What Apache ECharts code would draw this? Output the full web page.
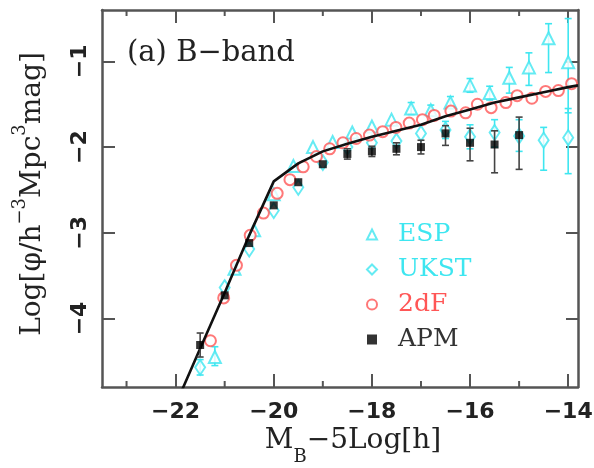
<!DOCTYPE html>
<html><head><meta charset="utf-8">
<script src="https://cdn.jsdelivr.net/npm/echarts@6/dist/echarts.min.js"></script>
<style>html,body{margin:0;padding:0;background:#fff}#c{width:594px;height:468px}</style>
</head><body><div id="c"></div>
<script>
// ---- axis ticks ----
const xTicks = [-22, -20, -18, -16, -14];
const xMinorTicks = [-23, -21, -19, -17, -15];
const yTicks = [-4, -3, -2, -1];

// ---- ESP (open triangles) ----
const espM  = [-21.2,-20.8,-20.4,-20.0,-19.6,-19.2,-18.8,-18.4,-18.0,-17.6,-17.2,-16.8,-16.4,-16.0,-15.6,-15.2,-14.8,-14.4,-14.0];
const espV  = [-4.45,-3.42,-2.97,-2.55,-2.22,-2.00,-1.94,-1.83,-1.76,-1.68,-1.55,-1.57,-1.48,-1.28,-1.37,-1.19,-1.07,-0.73,-1.01];
const espLo = [-4.55,-3.42,-2.97,-2.55,-2.22,-2.00,-1.94,-1.83,-1.76,-1.68,-1.62,-1.63,-1.55,-1.36,-1.45,-1.37,-1.28,-1.13,-1.60];
const espHi = [-4.33,-3.42,-2.97,-2.55,-2.22,-2.00,-1.94,-1.83,-1.76,-1.68,-1.48,-1.51,-1.41,-1.20,-1.29,-1.07,-0.90,-0.56,-0.50];

// ---- UKST (open diamonds) ----
const ukM  = [-21.5,-21.0,-20.5,-20.0,-19.5,-19.0,-18.5,-18.0,-17.5,-17.0,-16.5,-16.0,-15.5,-15.0,-14.5,-14.0];
const ukV  = [-4.57,-3.64,-3.19,-2.74,-2.47,-2.18,-2.00,-1.95,-1.93,-1.84,-1.80,-1.88,-1.83,-1.87,-1.92,-1.89];
const ukLo = [-4.66,-3.64,-3.19,-2.74,-2.47,-2.18,-2.00,-1.95,-1.93,-1.84,-1.90,-2.02,-2.00,-2.05,-2.27,-2.31];
const ukHi = [-4.48,-3.64,-3.19,-2.74,-2.47,-2.18,-2.00,-1.95,-1.93,-1.84,-1.70,-1.74,-1.68,-1.68,-1.77,-1.55];

// ---- 2dF (open circles) ----
const dfM = [-21.29,-21.02,-20.76,-20.48,-20.21,-19.93,-19.67,-19.40,-19.13,-18.86,-18.59,-18.32,-18.05,-17.78,-17.51,-17.24,-16.97,-16.73,-16.39,-16.09,-15.85,-15.57,-15.27,-15.04,-14.74,-14.46,-14.20,-13.93];
const dfV = [-4.26,-3.76,-3.38,-3.03,-2.77,-2.54,-2.38,-2.23,-2.11,-2.02,-1.95,-1.90,-1.86,-1.82,-1.77,-1.72,-1.68,-1.63,-1.58,-1.60,-1.50,-1.54,-1.48,-1.40,-1.43,-1.35,-1.34,-1.26];

// ---- APM (filled squares) ----
const apmM  = [-21.5,-21.0,-20.5,-20.0,-19.5,-19.0,-18.5,-18.0,-17.5,-17.0,-16.5,-16.0,-15.5,-15.0];
const apmV  = [-4.31,-3.73,-3.12,-2.68,-2.41,-2.20,-2.08,-2.05,-2.02,-2.00,-1.84,-1.95,-1.97,-1.86];
const apmLo = [-4.45,-3.73,-3.12,-2.68,-2.41,-2.20,-2.14,-2.11,-2.09,-2.08,-1.98,-2.16,-2.30,-2.26];
const apmHi = [-4.17,-3.73,-3.12,-2.68,-2.41,-2.20,-2.02,-1.99,-1.95,-1.92,-1.75,-1.78,-1.81,-1.65];

// ---- model curve ----
const fitM = [-21.88,-21.5,-21.0,-20.5,-20.0,-19.5,-19.0,-18.5,-18.0,-17.5,-17.0,-16.5,-16.0,-15.5,-15.0,-14.5,-14.0,-13.8];
const fitV = [-4.85,-4.35,-3.70,-3.03,-2.40,-2.19,-2.05,-1.96,-1.88,-1.81,-1.74,-1.64,-1.56,-1.48,-1.42,-1.36,-1.30,-1.28];

const X_MIN = -23.5, X_MAX = -13.8, Y_MIN = -4.8, Y_MAX = -0.4;
const CYAN = '#3ee6f0', RED = '#ff5656', FRAME = '#555';

const zip = (a, b) => a.map((v, i) => [v, b[i]]);
const zip3 = (a, b, c) => a.map((v, i) => [v, b[i], c[i]]);
const minus = v => (v < 0 ? '\u2212' + Math.abs(v) : '' + v);

function errRender(color) {
  return function (params, api) {
    const x = api.value(0), lo = api.value(1), hi = api.value(2);
    if (lo === hi) return null;
    const p1 = api.coord([x, lo]), p2 = api.coord([x, hi]);
    const w = 3.5, st = { stroke: color, lineWidth: 1.6 };
    return { type: 'group', children: [
      { type: 'line', shape: { x1: p1[0], y1: p1[1], x2: p2[0], y2: p2[1] }, style: st },
      { type: 'line', shape: { x1: p1[0] - w, y1: p1[1], x2: p1[0] + w, y2: p1[1] }, style: st },
      { type: 'line', shape: { x1: p2[0] - w, y1: p2[1], x2: p2[0] + w, y2: p2[1] }, style: st }
    ]};
  };
}
function errSeries(color, data, z) {
  return { type: 'custom', renderItem: errRender(color), data: data, encode: { x: 0, y: [1, 2] }, z: z, silent: true, clip: true };
}

// text measurement for composite titles
const mctx = document.createElement('canvas').getContext('2d');
function tw(t, f) { mctx.font = f; return mctx.measureText(t).width; }
function composite(parts, color) {
  const W = parts.reduce((s, p) => s + tw(p.t, p.f), 0);
  let x = -W / 2;
  return parts.map(p => {
    const el = { type: 'text', x: x, y: p.dy, style: { text: p.t, font: p.f, fill: color, align: 'left', verticalAlign: 'middle' } };
    x += tw(p.t, p.f);
    return el;
  });
}
const BASE = '28px "DejaVu Serif"', SMALL = '18px "DejaVu Serif"';
const yTitle = composite([
  { t: 'Log[\u03c6/h', f: BASE, dy: 0 }, { t: '\u22123', f: SMALL, dy: -13 },
  { t: 'Mpc', f: BASE, dy: 0 }, { t: '3', f: SMALL, dy: -13 }, { t: 'mag]', f: BASE, dy: 0 }
], '#222');
const xTitle = composite([
  { t: 'M', f: BASE, dy: 0 }, { t: 'B', f: SMALL, dy: 16 }, { t: '\u22125Log[h]', f: BASE, dy: 0 }
], '#222');

const chart = echarts.init(document.getElementById('c'), null, { renderer: 'canvas' });
const axisLineStyle = { color: FRAME, width: 2.5 };
const tickFont = { fontFamily: 'DejaVu Sans', fontWeight: 'bold', fontSize: 22, color: '#222' };

chart.setOption({
  animation: false,
  backgroundColor: '#fff',
  grid: { left: 102, right: 16, top: 10, bottom: 81, outerBoundsMode: 'none' },
  xAxis: [
    { type: 'value', min: X_MIN, max: X_MAX, position: 'bottom',
      axisLine: { show: true, onZero: false, lineStyle: axisLineStyle },
      axisTick: { show: true, inside: true, length: 13, customValues: xTicks, lineStyle: { color: FRAME, width: 2 } },
      axisLabel: Object.assign({ customValues: xTicks, formatter: minus, margin: 14 }, tickFont),
      splitLine: { show: false } },
    { type: 'value', min: X_MIN, max: X_MAX, position: 'top',
      axisLine: { show: true, onZero: false, lineStyle: axisLineStyle },
      axisTick: { show: true, inside: true, length: 13, customValues: xTicks, lineStyle: { color: FRAME, width: 2 } },
      axisLabel: { show: false }, splitLine: { show: false } }
  ],
  yAxis: [
    { type: 'value', min: Y_MIN, max: Y_MAX, position: 'left',
      axisLine: { show: true, onZero: false, lineStyle: axisLineStyle },
      axisTick: { show: true, inside: true, length: 13, customValues: yTicks, lineStyle: { color: FRAME, width: 2 } },
      axisLabel: Object.assign({ customValues: yTicks, formatter: minus, margin: 11, rotate: 90 }, tickFont),
      splitLine: { show: false } },
    { type: 'value', min: Y_MIN, max: Y_MAX, position: 'right',
      axisLine: { show: true, onZero: false, lineStyle: axisLineStyle },
      axisTick: { show: true, inside: true, length: 12, customValues: yTicks, lineStyle: { color: FRAME, width: 2 } },
      axisLabel: { show: false }, splitLine: { show: false } }
  ],
  legend: {
    orient: 'vertical', left: 361, top: 217, itemWidth: 10, itemHeight: 10, itemGap: 10,
    textStyle: { fontFamily: 'DejaVu Serif', fontSize: 25, padding: [0, 0, 0, 16] },
    data: [
      { name: 'ESP', textStyle: { color: CYAN } },
      { name: 'UKST', textStyle: { color: CYAN } },
      { name: '2dF', textStyle: { color: RED } },
      { name: 'APM', textStyle: { color: '#333' } }
    ]
  },
  graphic: [
    { type: 'text', x: 127, y: 53, style: { text: '(a) B\u2212band', font: '29px "DejaVu Serif"', fill: '#222', verticalAlign: 'middle' } },
    { type: 'group', x: 33, y: 194, rotation: Math.PI / 2, children: yTitle },
    { type: 'group', x: 353, y: 441, children: xTitle }
  ],
  series: [
    { type: 'custom', silent: true, z: 1,
      data: xMinorTicks.map(v => [v, Y_MIN]), encode: { x: 0, y: 1 },
      renderItem: function (params, api) {
        const b = api.coord([api.value(0), Y_MIN]), t = api.coord([api.value(0), Y_MAX]);
        const st = { stroke: FRAME, lineWidth: 2 };
        return { type: 'group', children: [
          { type: 'line', shape: { x1: b[0], y1: b[1], x2: b[0], y2: b[1] - 6 }, style: st },
          { type: 'line', shape: { x1: t[0], y1: t[1], x2: t[0], y2: t[1] + 6 }, style: st }
        ]};
      } },
    errSeries(CYAN, zip3(espM, espLo, espHi), 2),
    errSeries(CYAN, zip3(ukM, ukLo, ukHi), 2),
    errSeries('#444', zip3(apmM, apmLo, apmHi), 6),
    { name: 'ESP', type: 'scatter', data: zip(espM, espV), symbol: 'emptyTriangle', symbolSize: 12, z: 3,
      itemStyle: { color: CYAN, borderColor: CYAN, borderWidth: 2 } },
    { name: 'UKST', type: 'scatter', data: zip(ukM, ukV), symbol: 'emptyDiamond', symbolSize: [10, 15], z: 3,
      itemStyle: { color: CYAN, borderColor: CYAN, borderWidth: 2 } },
    { name: '2dF', type: 'scatter', data: zip(dfM, dfV), symbol: 'emptyCircle', symbolSize: 11, z: 4,
      itemStyle: { color: RED, borderColor: RED, borderWidth: 2 } },
    { name: 'fit', type: 'line', data: zip(fitM, fitV), symbol: 'none', z: 5, clip: true,
      lineStyle: { color: '#111', width: 2.6 } },
    { name: 'APM', type: 'scatter', data: zip(apmM, apmV), symbol: 'rect', symbolSize: 8, z: 7,
      itemStyle: { color: '#000' } }
  ]
});
</script></body></html>
